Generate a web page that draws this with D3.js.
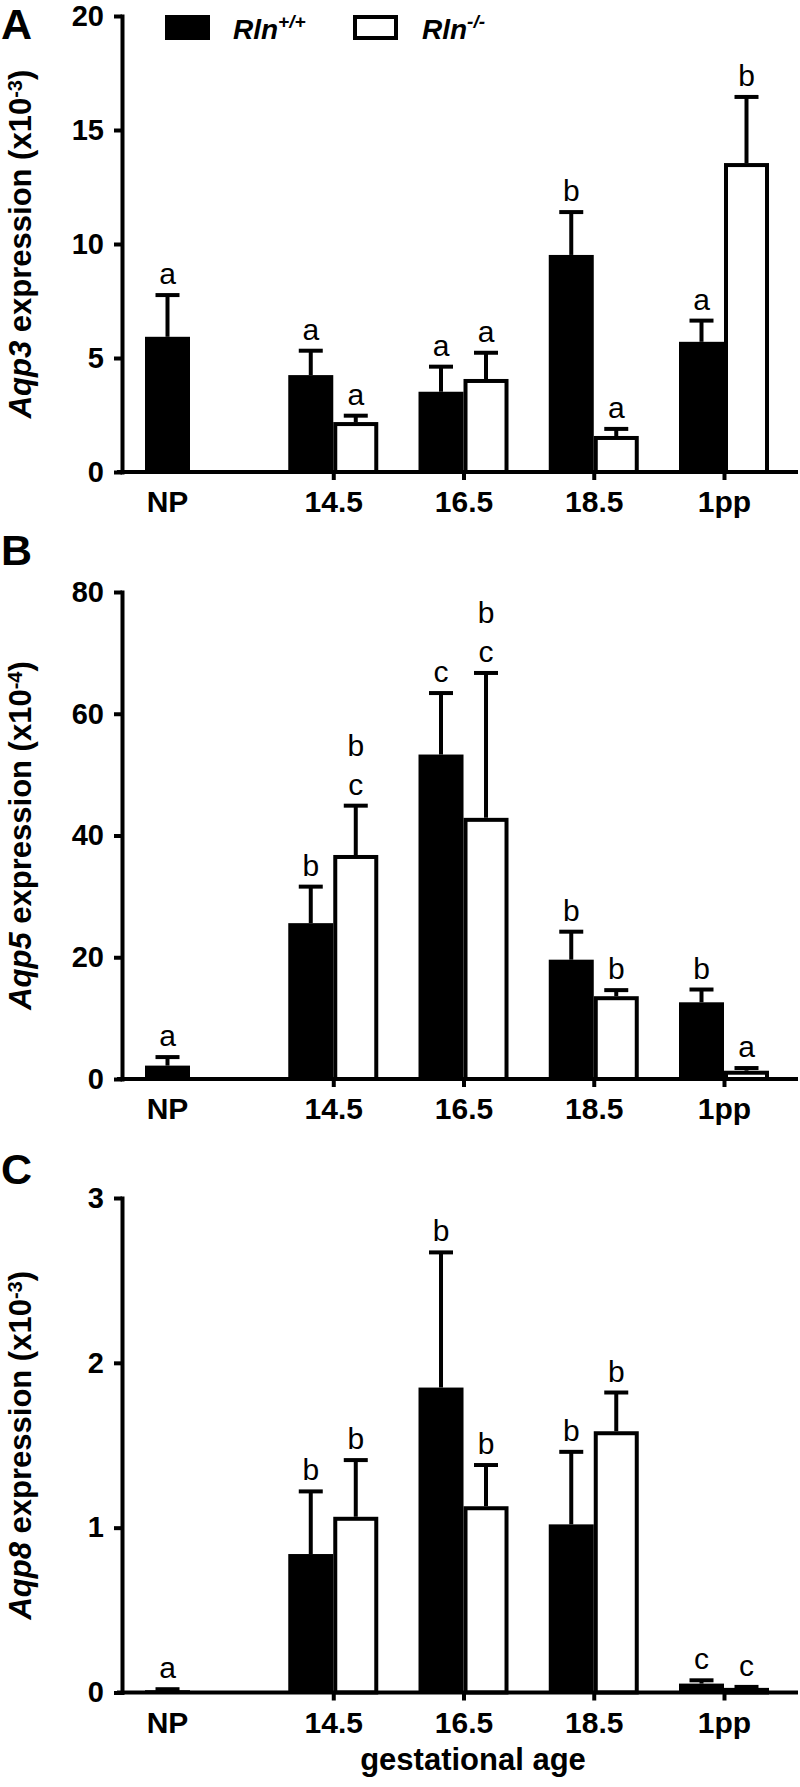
<!DOCTYPE html>
<html>
<head>
<meta charset="utf-8">
<script src="https://cdn.jsdelivr.net/npm/d3@7"></script>
<style>
  html, body { margin: 0; padding: 0; background: #fff; }
  svg { display: block; }
  text { font-family: "Liberation Sans", Arial, Helvetica, sans-serif; fill: #000; }
</style>
</head>
<body>
<svg id="chart" width="800" height="1787"></svg>
<script>
// ---------------- data ----------------
const groups = ["NP", "14.5", "16.5", "18.5", "1pp"];
const seriesNames = ["Rln", "Rln"];
const seriesSup = ["+/+", "-/-"];

// Panel A: Aqp3 (x10^-3)
const aqp3Wt      = [5.93, 4.25, 3.52, 9.52, 5.71];
const aqp3WtErr   = [1.83, 1.07, 1.10, 1.88, 0.93];
const aqp3Ko      = [null, 2.19, 4.08, 1.58, 13.55];
const aqp3KoErr   = [null, 0.28, 1.15, 0.31, 2.90];
const aqp3WtLet   = ["a", "a", "a", "b", "a"];
const aqp3KoLet   = [null, "a", "a", "a", "b"];
const aqp3Ticks   = [0, 5, 10, 15, 20];

// Panel B: Aqp5 (x10^-4)
const aqp5Wt      = [2.2, 25.6, 53.3, 19.6, 12.6];
const aqp5WtErr   = [1.4, 6.0, 10.1, 4.6, 2.1];
const aqp5Ko      = [null, 36.8, 42.9, 13.6, 1.36];
const aqp5KoErr   = [null, 8.1, 23.8, 1.0, 0.44];
const aqp5WtLet   = ["a", "b", "c", "b", "b"];
const aqp5KoLet   = [null, "bc", "bc", "b", "a"];
const aqp5Ticks   = [0, 20, 40, 60, 80];

// Panel C: Aqp8 (x10^-3)
const aqp8Wt      = [0.014, 0.84, 1.85, 1.02, 0.054];
const aqp8WtErr   = [0.006, 0.38, 0.82, 0.44, 0.02];
const aqp8Ko      = [null, 1.066, 1.13, 1.585, 0.028];
const aqp8KoErr   = [null, 0.344, 0.25, 0.235, 0.006];
const aqp8WtLet   = ["a", "b", "b", "b", "c"];
const aqp8KoLet   = [null, "b", "b", "b", "c"];
const aqp8Ticks   = [0, 1, 2, 3];

// ---------------- layout ----------------
const svg = d3.select("#chart");
const AXIS_X = 122;
const AXIS_RIGHT = 798;
const BAR_W = 45;
const SW = 4;          // stroke width
const CAP_W = 24;
const NP_GAP = 0.1;    // extra gap after NP group (in group units)

const x = d3.scaleLinear().domain([0, groups.length - 1 + NP_GAP]).range([190, 724]);
const gx = i => x(i === 0 ? 0 : i + NP_GAP);

const panels = [
  { letter: "A", gene: "Aqp3", exp: "-3", wt: aqp3Wt, wtErr: aqp3WtErr, ko: aqp3Ko, koErr: aqp3KoErr,
    wtLet: aqp3WtLet, koLet: aqp3KoLet, ticks: aqp3Ticks, yRange: [472, 16], letterY: 39 },
  { letter: "B", gene: "Aqp5", exp: "-4", wt: aqp5Wt, wtErr: aqp5WtErr, ko: aqp5Ko, koErr: aqp5KoErr,
    wtLet: aqp5WtLet, koLet: aqp5KoLet, ticks: aqp5Ticks, yRange: [1079, 592], letterY: 565 },
  { letter: "C", gene: "Aqp8", exp: "-3", wt: aqp8Wt, wtErr: aqp8WtErr, ko: aqp8Ko, koErr: aqp8KoErr,
    wtLet: aqp8WtLet, koLet: aqp8KoLet, ticks: aqp8Ticks, yRange: [1692.5, 1198], letterY: 1184 }
];

panels.forEach(p => {
  const y = d3.scaleLinear().domain([0, d3.max(p.ticks)]).range(p.yRange);
  const y0 = y(0);
  const g = svg.append("g");

  // panel letter
  g.append("text").attr("x", 1).attr("y", p.letterY)
    .attr("font-size", 43).attr("font-weight", "bold").text(p.letter);

  // bars
  const drawSeries = (vals, errs, lets, isWt) => {
    vals.forEach((v, i) => {
      if (v == null) return;
      const c = gx(i);
      const cx = isWt ? c - BAR_W / 2 : c + BAR_W / 2;
      const top = y(v);
      if (isWt) {
        g.append("rect").attr("x", c - BAR_W).attr("y", top)
          .attr("width", BAR_W).attr("height", Math.max(y0 - top, 0.5))
          .attr("fill", "#000");
      } else {
        g.append("rect").attr("x", c + SW / 2).attr("y", top + SW / 2)
          .attr("width", BAR_W - SW).attr("height", Math.max(y0 - top - SW / 2, 0))
          .attr("fill", "#fff").attr("stroke", "#000").attr("stroke-width", SW);
      }
      const et = y(v + errs[i]);
      g.append("line").attr("x1", cx).attr("x2", cx).attr("y1", top).attr("y2", et)
        .attr("stroke", "#000").attr("stroke-width", SW);
      g.append("line").attr("x1", cx - CAP_W / 2).attr("x2", cx + CAP_W / 2).attr("y1", et).attr("y2", et)
        .attr("stroke", "#000").attr("stroke-width", SW);
      const L = lets[i];
      if (L) {
        const chars = L.split("").reverse();
        chars.forEach((ch, k) => {
          g.append("text").attr("x", cx).attr("y", et - 11 - k * 39)
            .attr("text-anchor", "middle").attr("font-size", 30).text(ch);
        });
      }
    });
  };
  drawSeries(p.wt, p.wtErr, p.wtLet, true);
  drawSeries(p.ko, p.koErr, p.koLet, false);

  // y axis
  const ya = g.append("g").attr("transform", `translate(${AXIS_X},0)`)
    .call(d3.axisLeft(y).tickValues(p.ticks).tickFormat(d3.format("d")).tickSize(8).tickSizeOuter(0).tickPadding(10));
  ya.select(".domain").attr("stroke-width", SW).attr("stroke-linecap", "square");
  ya.selectAll(".tick line").attr("stroke-width", SW);
  ya.selectAll(".tick text").attr("font-size", 29).attr("font-weight", "bold")
    .attr("font-family", "Liberation Sans, Arial, sans-serif").attr("fill", "#000");

  // x axis line
  g.append("line").attr("x1", AXIS_X - 5).attr("x2", AXIS_RIGHT).attr("y1", y0).attr("y2", y0)
    .attr("stroke", "#000").attr("stroke-width", SW);
  const xa = g.append("g").attr("transform", `translate(0,${y0})`)
    .call(d3.axisBottom(x).tickValues(d3.range(1, groups.length).map(i => i + NP_GAP))
      .tickFormat(d => groups[Math.round(d - NP_GAP)]).tickSize(8).tickPadding(11));
  xa.select(".domain").remove();
  xa.selectAll(".tick line").attr("stroke-width", SW);
  xa.selectAll(".tick text").attr("font-size", 30).attr("font-weight", "bold")
    .attr("font-family", "Liberation Sans, Arial, sans-serif").attr("fill", "#000");
  // NP label centred under its single bar
  g.append("text").attr("x", gx(0) - BAR_W / 2).attr("y", y0 + 40)
    .attr("text-anchor", "middle").attr("font-size", 30).attr("font-weight", "bold").text(groups[0]);

  // y label
  const cy = (p.yRange[0] + p.yRange[1]) / 2;
  const t = g.append("text").attr("transform", `translate(31,${cy}) rotate(-90)`)
    .attr("text-anchor", "middle").attr("font-size", 31).attr("font-weight", "bold");
  t.append("tspan").attr("font-style", "italic").text(p.gene);
  t.append("tspan").text(" expression (x10");
  t.append("tspan").attr("font-size", 20).attr("dy", -9).text(p.exp);
  t.append("tspan").attr("dy", 9).text(")");
});

// legend
const leg = svg.append("g");
leg.append("rect").attr("x", 165).attr("y", 15).attr("width", 45).attr("height", 25).attr("fill", "#000");
leg.append("rect").attr("x", 355).attr("y", 17).attr("width", 41).attr("height", 21)
  .attr("fill", "#fff").attr("stroke", "#000").attr("stroke-width", SW);
[[233, 0], [422, 1]].forEach(([lx, k]) => {
  const tt = leg.append("text").attr("x", lx).attr("y", 39).attr("font-size", 28)
    .attr("font-weight", "bold").attr("font-style", "italic");
  tt.append("tspan").text(seriesNames[k]);
  tt.append("tspan").attr("font-size", 19).attr("dy", -11).text(seriesSup[k]);
});

// x title
svg.append("text").attr("x", 473).attr("y", 1770).attr("text-anchor", "middle")
  .attr("font-size", 31).attr("font-weight", "bold").text("gestational age");
</script>
</body>
</html>
